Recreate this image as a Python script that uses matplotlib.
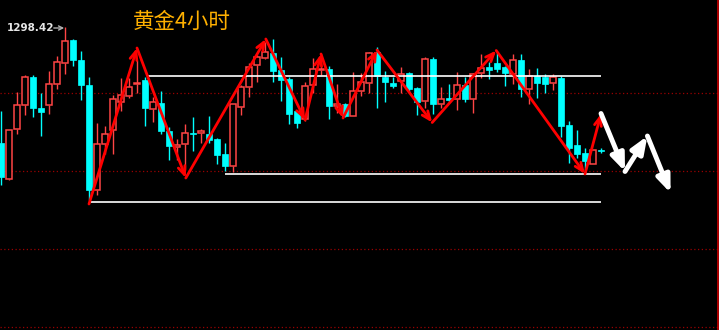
""" Gold 4-hour candlestick chart with hand-drawn swing arrows

"""
import matplotlib
matplotlib.use("Agg")
import matplotlib.pyplot as plt
from matplotlib.patches import Rectangle

plt.rcParams['font.family'] = ['Noto Sans CJK SC', 'DejaVu Sans']

# candle prices (open, close, high, low), one per 4h bar
opens = [1286.8, 1283.2, 1288.2, 1290.6, 1293.4, 1290.3, 1290.6, 1292.7, 1294.8, 1297.1,
         1295.1, 1292.6, 1282.1, 1286.7, 1288.1, 1290.9, 1291.5, 1292.7, 1293.1, 1290.2,
         1290.8, 1288.0, 1286.4, 1286.7, 1287.8, 1287.8, 1287.7, 1287.2, 1285.7, 1284.5,
         1290.4, 1292.4, 1294.6, 1295.3, 1295.8, 1294.1, 1293.2, 1290.0, 1289.2, 1292.6,
         1294.1, 1294.2, 1290.5, 1290.7, 1289.5, 1292.0, 1292.8, 1295.9, 1293.4, 1292.8,
         1293.0, 1293.8, 1292.3, 1291.0, 1295.2, 1290.7, 1291.3, 1291.2, 1292.6, 1291.2,
         1293.8, 1294.4, 1294.8, 1294.4, 1293.7, 1295.1, 1292.2, 1293.5, 1293.4, 1292.8,
         1293.3, 1288.6, 1286.6, 1285.8, 1284.7, 1286.1]
closes = [1283.4, 1288.1, 1290.6, 1293.4, 1290.3, 1289.9, 1292.7, 1294.9, 1297.0, 1295.1,
          1292.6, 1282.1, 1286.7, 1287.7, 1291.2, 1291.6, 1292.4, 1292.8, 1290.3, 1290.9,
          1288.0, 1286.5, 1286.6, 1287.8, 1287.7, 1288.0, 1287.1, 1285.6, 1284.5, 1290.7,
          1292.4, 1294.4, 1295.4, 1295.9, 1294.0, 1293.1, 1289.7, 1288.8, 1292.5, 1294.2,
          1294.2, 1290.5, 1290.7, 1289.5, 1292.0, 1292.9, 1295.8, 1293.5, 1292.9, 1292.5,
          1293.7, 1292.2, 1290.9, 1295.2, 1290.7, 1291.2, 1291.1, 1292.6, 1291.2, 1293.7,
          1294.3, 1294.1, 1294.2, 1293.8, 1295.1, 1292.2, 1293.5, 1292.8, 1292.7, 1293.4,
          1288.5, 1286.3, 1285.7, 1285.0, 1286.1, 1286.0]
highs = [1290.0, 1288.1, 1291.9, 1293.6, 1293.6, 1291.8, 1294.0, 1295.5, 1298.4, 1297.2,
         1296.0, 1293.4, 1288.8, 1288.5, 1291.6, 1293.3, 1293.3, 1295.1, 1293.4, 1291.4,
         1292.0, 1288.4, 1287.2, 1288.7, 1289.4, 1288.2, 1289.5, 1287.3, 1286.8, 1290.7,
         1292.6, 1294.8, 1295.6, 1296.9, 1297.2, 1295.4, 1293.4, 1290.1, 1292.9, 1295.3,
         1295.7, 1294.5, 1292.7, 1290.8, 1293.9, 1293.8, 1295.9, 1296.4, 1294.0, 1293.4,
         1294.4, 1293.9, 1292.4, 1295.4, 1295.4, 1292.4, 1292.7, 1293.9, 1293.4, 1293.8,
         1295.7, 1294.9, 1295.8, 1294.5, 1295.7, 1295.7, 1294.2, 1294.3, 1293.7, 1293.7,
         1293.5, 1289.0, 1288.1, 1286.3, 1286.1, 1286.3]
lows = [1282.6, 1283.1, 1287.7, 1289.6, 1289.4, 1287.5, 1289.7, 1292.2, 1293.7, 1294.5,
        1291.1, 1281.1, 1281.6, 1285.7, 1285.7, 1290.0, 1291.3, 1291.8, 1288.5, 1288.9,
        1287.7, 1285.1, 1285.1, 1284.1, 1286.0, 1286.8, 1286.8, 1284.7, 1284.0, 1283.9,
        1289.6, 1291.4, 1292.9, 1295.2, 1292.9, 1291.0, 1288.7, 1288.3, 1289.0, 1291.8,
        1293.6, 1289.2, 1289.8, 1289.4, 1289.5, 1291.5, 1291.8, 1290.3, 1290.9, 1292.3,
        1291.8, 1291.8, 1289.6, 1290.3, 1289.7, 1290.3, 1290.9, 1290.1, 1290.9, 1289.8,
        1293.3, 1293.2, 1293.9, 1292.5, 1292.7, 1291.4, 1290.7, 1291.3, 1291.8, 1292.1,
        1287.4, 1284.8, 1285.3, 1283.7, 1284.7, 1285.8]

# red swing zigzag (bar index, price)
swing_x = [11, 17, 23.1, 33.1, 38, 40, 42.75, 47, 53.9, 61.9, 73, 75]
swing_y = [1280.7, 1296.3, 1283.3, 1297.2, 1289.1, 1295.7, 1289.3, 1296.1,
           1288.85, 1296.05, 1283.7, 1289.7]

# white projected path
proj_x = [75, 78, 80.8, 83.7]
proj_y = [1289.75, 1283.95, 1287.5, 1281.8]

# white horizontal levels: (price, start bar, end bar)
levels = [(1293.5, 18.25, 75), (1283.7, 28, 75), (1280.85, 11.25, 75)]

grid_prices = [1291.8, 1284.0, 1276.2, 1268.4]
high_label = "1298.42"
title = "黄金4小时"

UP = '#FF4545'
DOWN = '#00FFFF'

fig = plt.figure(figsize=(7.19, 3.30), dpi=100, facecolor='black')
ax = fig.add_axes([0, 0, 1, 1])
ax.set_facecolor('black')
ax.set_xlim(-0.125, 89.75)
ax.set_ylim(1268.1, 1301.1)
ax.axis('off')

for p in grid_prices:
    ax.axhline(p, color='#9A0000', ls=(0, (1, 2)), lw=0.9, zorder=0)
ax.axvline(89.6, color='#CC0000', lw=1.2)

w = 0.72
for i, (o, c, h, l) in enumerate(zip(opens, closes, highs, lows)):
    top, bot = max(o, c), min(o, c)
    if c >= o:
        ax.vlines(i, bot, l, color=UP, lw=1, zorder=2)
        ax.vlines(i, h, top, color=UP, lw=1, zorder=2)
        ax.add_patch(Rectangle((i - w / 2, bot), w, max(top - bot, 0.05),
                               facecolor='black', edgecolor=UP, lw=1.1, zorder=3))
    else:
        ax.vlines(i, l, h, color=DOWN, lw=1, zorder=2)
        ax.add_patch(Rectangle((i - w / 2, bot), w, max(top - bot, 0.12),
                               facecolor=DOWN, edgecolor=DOWN, lw=0.5, zorder=3))

for p, x0, x1 in levels:
    ax.hlines(p, x0, x1, color='white', lw=1.2, zorder=4)

for k in range(len(swing_x) - 1):
    ax.annotate('', xy=(swing_x[k + 1], swing_y[k + 1]), xytext=(swing_x[k], swing_y[k]),
                arrowprops=dict(arrowstyle='->,head_length=0.6,head_width=0.25',
                                color='#FF0000', lw=2, shrinkA=0, shrinkB=0),
                zorder=5)

for k in range(len(proj_x) - 1):
    ax.annotate('', xy=(proj_x[k + 1], proj_y[k + 1]), xytext=(proj_x[k], proj_y[k]),
                arrowprops=dict(arrowstyle='-|>,head_length=1.0,head_width=0.4',
                                color='white', lw=3.5, shrinkA=0, shrinkB=0),
                zorder=5)

ax.text(0.75, 1298.3, high_label, color='#E6E6E6', fontsize=7.5, fontweight='bold',
        family='DejaVu Sans', va='center', ha='left')
ax.annotate('', xy=(7.9, 1298.3), xytext=(6.6, 1298.3),
            arrowprops=dict(arrowstyle='->,head_length=0.3,head_width=0.15',
                            color='#B0B0B0', lw=1, shrinkA=0, shrinkB=0))

fig.text(133 / 719, 1 - 22 / 330, title, color='#FFB000', fontsize=15.5,
         va='center', ha='left')

fig.savefig('out.png', dpi=100, facecolor='black')
